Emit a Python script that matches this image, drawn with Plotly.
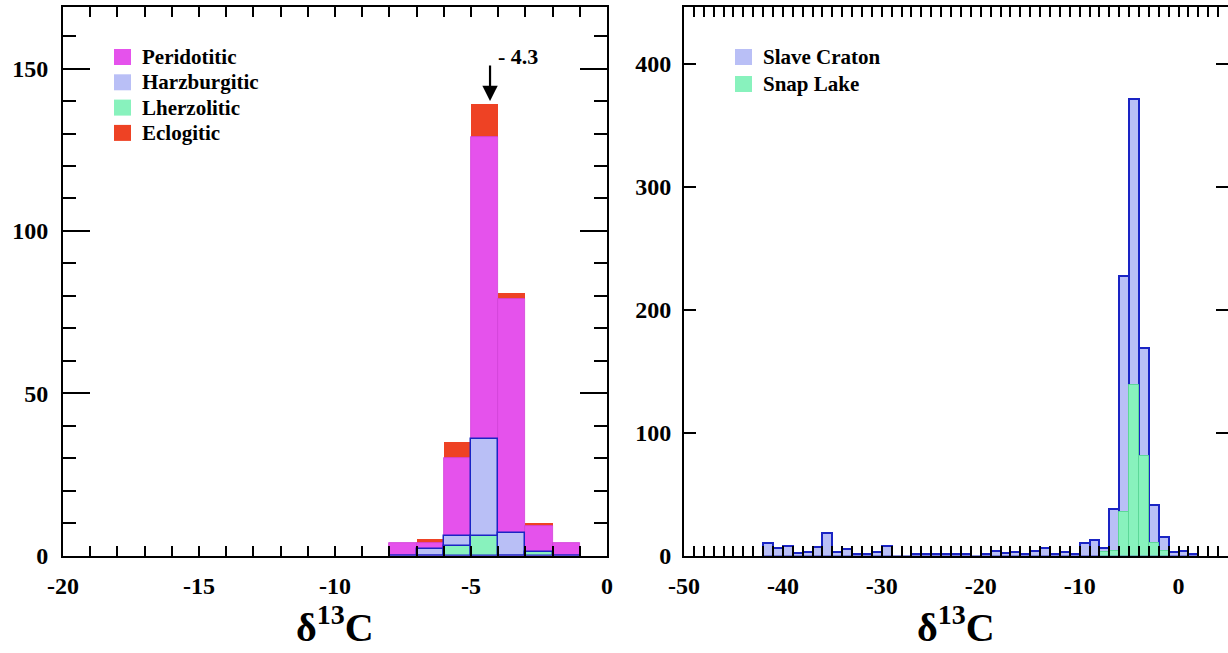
import plotly.graph_objects as go

# ---------------- data ----------------
# Left panel: bin left edges (width 1 permil)
left_bins = [-8, -7, -6, -5, -4, -3, -2]
peridotitic = [4, 4, 30, 129, 79, 9, 4]
eclogitic = [0, 1, 5, 10, 2, 1, 0]
harzburgitic = [0, 2, 6, 36, 7, 0, 0]
lherzolitic = [0, 0, 3, 6, 0, 1, 0]
mode_value = -4.3

# Right panel: bin left edges (width 1 permil)
right_bins = list(range(-42, 2))
slave_craton = [10, 6, 8, 2, 3, 7, 18, 3, 5, 1, 1, 3, 8, 0, 0, 1, 1, 1, 1, 1, 1, 0,
                1, 4, 2, 3, 1, 4, 6, 1, 3, 1, 10, 13, 6, 38, 227, 371, 169, 41, 15, 3, 4, 1]
snap_bins = [-8, -7, -6, -5, -4, -3, -2]
snap_lake = [3, 4, 35, 139, 81, 10, 4]

left_xticks = [-20, -15, -10, -5, 0]
left_yticks = [0, 50, 100, 150]
right_xticks = [-50, -40, -30, -20, -10, 0]
right_yticks = [0, 100, 200, 300, 400]

left_legend = ["Peridotitic", "Harzburgitic", "Lherzolitic", "Eclogitic"]
right_legend = ["Slave Craton", "Snap Lake"]

# ---------------- style ----------------
FONT = "Liberation Serif"
C_PER = "#e552ec"
C_HAR = "#b9bff6"
C_LHE = "#88f2bd"
C_ECL = "#ee4224"
C_SC = "#b9bff6"
C_SL = "#88f2bd"
C_OUT = "#1a24c4"

W, H = 1228, 653
def px_x(p):
    return p / W
def px_y(p):
    return (H - p) / H

def centers(edges):
    return [e + 0.5 for e in edges]

def labels(vals):
    return [str(v) for v in vals]

fig = go.Figure()

# left panel traces (overlay; eclogitic stacked on top of peridotitic)
fig.add_trace(go.Bar(x=centers(left_bins), y=eclogitic, base=peridotitic, width=1,
                     name="Eclogitic", marker=dict(color=C_ECL, line=dict(width=0)),
                     showlegend=False, xaxis="x", yaxis="y"))
fig.add_trace(go.Bar(x=centers(left_bins), y=peridotitic, width=1,
                     name="Peridotitic", marker=dict(color=C_PER, line=dict(color="#d040d8", width=0.8)),
                     showlegend=False, xaxis="x", yaxis="y"))
fig.add_trace(go.Bar(x=centers(left_bins), y=harzburgitic, width=1,
                     name="Harzburgitic", marker=dict(color=C_HAR, line=dict(color=C_OUT, width=1.5)),
                     showlegend=False, xaxis="x", yaxis="y"))
fig.add_trace(go.Bar(x=centers(left_bins), y=lherzolitic, width=1,
                     name="Lherzolitic", marker=dict(color=C_LHE, line=dict(color=C_OUT, width=1.5)),
                     showlegend=False, xaxis="x", yaxis="y"))

# right panel traces
fig.add_trace(go.Bar(x=centers(right_bins), y=slave_craton, width=1,
                     name="Slave Craton", marker=dict(color=C_SC, line=dict(color=C_OUT, width=2)),
                     showlegend=False, xaxis="x2", yaxis="y2"))
fig.add_trace(go.Bar(x=centers(snap_bins), y=snap_lake, width=1,
                     name="Snap Lake", marker=dict(color=C_SL, line=dict(color="#5cd898", width=1)),
                     showlegend=False, xaxis="x2", yaxis="y2"))

tickfont = dict(family=FONT, size=24, color="black", weight="bold")
common_axis = dict(showline=True, linecolor="black", linewidth=2, mirror="ticks",
                   ticks="inside", tickcolor="black", tickwidth=2, showgrid=False,
                   zeroline=False, tickfont=tickfont, automargin=False, tickmode="array")

ybot = px_y(555.5)
ytop = px_y(7)

fig.update_layout(
    width=W, height=H,
    margin=dict(l=0, r=0, t=0, b=0, autoexpand=False),
    plot_bgcolor="white", paper_bgcolor="white",
    barmode="overlay",
    bargap=0,
    showlegend=False,
    xaxis=dict(domain=[px_x(63), px_x(607)], range=[-20, 0],
               tickvals=left_xticks, ticktext=labels(left_xticks), ticklen=10, ticklabelstandoff=8,
               minor=dict(dtick=1, ticks="inside", ticklen=10, tickwidth=2, tickcolor="black"),
               anchor="y", **common_axis),
    yaxis=dict(domain=[ybot, ytop], range=[0, 169],
               tickvals=left_yticks, ticktext=labels(left_yticks), ticklen=27, ticklabelstandoff=8,
               minor=dict(dtick=10, ticks="inside", ticklen=13, tickwidth=2, tickcolor="black"),
               anchor="x", **common_axis),
    xaxis2=dict(domain=[px_x(684), 1.0], range=[-50, 5],
                tickvals=right_xticks, ticktext=labels(right_xticks), ticklen=10, ticklabelstandoff=8,
                minor=dict(dtick=1, ticks="inside", ticklen=10, tickwidth=2, tickcolor="black"),
                anchor="y2", **common_axis),
    yaxis2=dict(domain=[ybot, ytop], range=[0, 446],
                tickvals=right_yticks, ticktext=labels(right_yticks), ticklen=12, ticklabelstandoff=6,
                anchor="x2", **common_axis),
)

# manual legends (square swatch + bold label)
legfont = dict(family=FONT, size=21, color="black", weight="bold")
def add_legend(names, colors, x_sq, y_first, step):
    for i, (nm, col) in enumerate(zip(names, colors)):
        yc = y_first + i * step
        fig.add_shape(type="rect", xref="paper", yref="paper",
                      x0=px_x(x_sq), x1=px_x(x_sq + 17), y0=px_y(yc + 8), y1=px_y(yc - 8),
                      fillcolor=col, line=dict(width=0), layer="above")
        fig.add_annotation(x=px_x(x_sq + 26), y=px_y(yc), xref="paper", yref="paper",
                           text=nm, showarrow=False, xanchor="left", yanchor="middle",
                           font=legfont)

add_legend(left_legend, [C_PER, C_HAR, C_LHE, C_ECL], 114, 57, 25.3)
add_legend(right_legend, [C_SC, C_SL], 735, 57, 27)

# arrow marking the mode
fig.add_annotation(x=mode_value, y=140, xref="x", yref="y", text="", showarrow=True,
                   ax=0, ay=-37, arrowhead=2, arrowsize=1.4, arrowwidth=2.2, arrowcolor="black")
fig.add_annotation(x=mode_value, y=140, xref="x", yref="y", text=f"- {abs(mode_value)}",
                   showarrow=False, xanchor="left", yanchor="middle", xshift=6, yshift=45,
                   font=dict(family=FONT, size=22, color="black", weight="bold"))

# axis titles
for cx in [(63 + 607) / 2, (684 + 1228) / 2]:
    fig.add_annotation(x=px_x(cx), y=px_y(624), xref="paper", yref="paper",
                       text="δ<sup>13</sup>C", showarrow=False, xanchor="center", yanchor="middle",
                       font=dict(family=FONT, size=40, color="black", weight="bold"))

fig.write_html("out.html")
